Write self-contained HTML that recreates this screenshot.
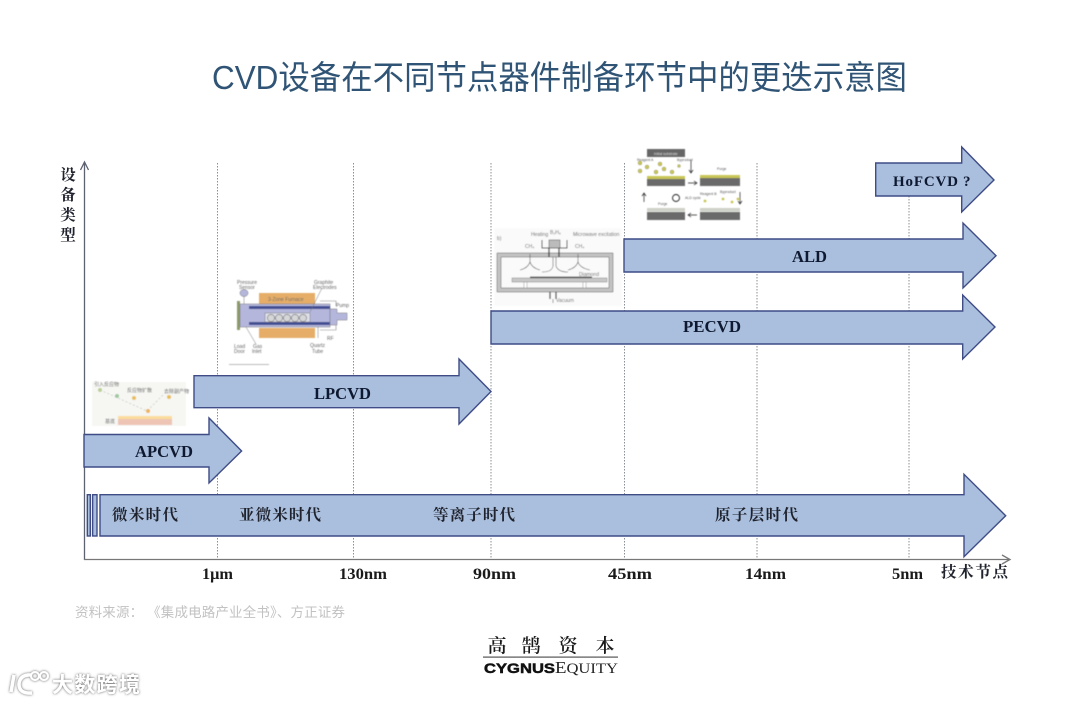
<!DOCTYPE html>
<html lang="zh-CN">
<head>
<meta charset="utf-8">
<title>CVD设备在不同节点器件制备环节中的更迭示意图</title>
<style>
html,body{margin:0;padding:0;background:#fff;width:1080px;height:703px;overflow:hidden}
svg{display:block}
.arr{fill:#a9bfdd;stroke:#3f4c86;stroke-width:1.4}
.dot{stroke:#8a8f96;stroke-width:1;stroke-dasharray:1.5 1.5;fill:none}
.lab{font-family:"Liberation Serif",serif;font-weight:bold;font-size:17px;fill:#0e1830}
.tick{font-family:"Liberation Serif",serif;font-weight:bold;font-size:16px;fill:#1a1a1a}
.cn{font-family:"Liberation Serif","Noto Serif CJK SC",serif;font-size:15.5px;fill:#20232e;font-weight:700}
.tiny{font-family:"Liberation Sans",sans-serif;font-size:5px;fill:#666}
</style>
</head>
<body>
<svg width="1080" height="703" viewBox="0 0 1080 703" xmlns="http://www.w3.org/2000/svg">
<defs>
<filter id="b" x="-5%" y="-5%" width="110%" height="110%"><feGaussianBlur stdDeviation="0.45"/></filter>
<filter id="ws" x="-10%" y="-30%" width="120%" height="160%"><feDropShadow dx="0" dy="0" stdDeviation="1.4" flood-color="#555" flood-opacity="1"/></filter>
</defs>

<text x="212" y="89" textLength="695" lengthAdjust="spacingAndGlyphs" font-family="'Liberation Sans','Noto Sans CJK SC',sans-serif" font-size="33" fill="#2f5475">CVD设备在不同节点器件制备环节中的更迭示意图</text>

<!-- dotted grid -->
<path class="dot" d="M217.5 163V559M353.5 163V559M491 163V559M624.5 163V559M757 163V559M909 163V559"/>

<!-- axes -->
<path d="M84.5 560V162M80.5 170L84.5 162L88.5 170" fill="none" stroke="#5c6270" stroke-width="1.3"/>
<path d="M84 559.5H1009M1002 555L1010 559.5L1002 564" fill="none" stroke="#777" stroke-width="1.3"/>

<!-- APCVD picture -->
<g filter="url(#b)">
<rect x="92" y="382" width="94" height="44" fill="#f6f6f3"/>
<rect x="118" y="416" width="54" height="3" fill="#fbdc9b"/>
<rect x="118" y="419" width="54" height="6" fill="#eec4b5"/>
<path d="M100 390L147 411L163 395" fill="none" stroke="#bbb" stroke-width=".6" stroke-dasharray="2 2"/>
<circle cx="100" cy="390" r="2" fill="#b9cf96"/><circle cx="117" cy="396" r="2" fill="#9fc79f"/>
<circle cx="134" cy="398" r="2" fill="#e9bd58"/><circle cx="148" cy="411" r="2" fill="#eeb25c"/><circle cx="169" cy="397" r="2" fill="#e9bd58"/>
<text class="tiny" x="94" y="386" style="font-family:'Noto Sans CJK SC',sans-serif" font-size="4">引入反应物</text>
<text class="tiny" x="127" y="392" style="font-family:'Noto Sans CJK SC',sans-serif" font-size="4">反应物扩散</text>
<text class="tiny" x="164" y="393" style="font-family:'Noto Sans CJK SC',sans-serif" font-size="4">去除副产物</text>
<text class="tiny" x="105" y="423" style="font-family:'Noto Sans CJK SC',sans-serif" font-size="4">基底</text>
</g>

<!-- LPCVD picture -->
<g filter="url(#b)">
<rect x="259" y="293" width="56" height="11" fill="#e5ad68"/>
<rect x="259" y="328" width="56" height="10" fill="#e5ad68"/>
<rect x="237" y="301" width="3" height="29" fill="#8c9a6a"/>
<rect x="240" y="304" width="90" height="23" fill="#b4b6dc" stroke="#777" stroke-width=".5"/>
<rect x="249" y="306" width="81" height="3" fill="#3f4d92"/>
<rect x="249" y="322" width="81" height="3" fill="#3f4d92"/>
<rect x="265" y="313" width="45" height="9" fill="#dfe0ea" stroke="#777" stroke-width=".5"/>
<g fill="#d5d6d8" stroke="#666" stroke-width=".6">
<circle cx="271" cy="318" r="3.6"/><circle cx="279" cy="318" r="3.6"/><circle cx="287" cy="318" r="3.6"/><circle cx="295" cy="318" r="3.6"/><circle cx="303" cy="318" r="3.6"/>
</g>
<path d="M330 309H337V313H347V320H337V325H330Z" fill="#b4b6dc" stroke="#777" stroke-width=".5"/>
<path d="M320 301H336V306M320 330H336V325" fill="none" stroke="#888" stroke-width=".6"/>
<ellipse cx="244" cy="293" rx="4" ry="3.5" fill="#b4b6dc" stroke="#666" stroke-width=".5"/>
<path d="M244 296V304M322 288L310 312M246 327L256 344M318 327V338" stroke="#777" stroke-width=".5" fill="none"/>
<text class="tiny" x="237" y="284">Pressure</text><text class="tiny" x="239" y="289">Sensor</text>
<text class="tiny" x="314" y="284">Graphite</text><text class="tiny" x="313" y="289">Electrodes</text>
<text class="tiny" x="268" y="301" fill="#654">3-Zone Furnace</text>
<text class="tiny" x="336" y="307">Pump</text><text class="tiny" x="327" y="340">RF</text>
<text class="tiny" x="234" y="348">Load</text><text class="tiny" x="234" y="353">Door</text>
<text class="tiny" x="253" y="348">Gas</text><text class="tiny" x="252" y="353">Inlet</text>
<text class="tiny" x="310" y="347">Quartz</text><text class="tiny" x="312" y="353">Tube</text>
<rect x="229" y="364" width="40" height="1" fill="#bbb"/>
</g>

<!-- PECVD picture -->
<g filter="url(#b)">
<rect x="494" y="228" width="128" height="78" fill="#fafafa"/>
<path fill-rule="evenodd" d="M497 253H613V292H497ZM501 257V288H609V257Z" fill="#c3c3c3" stroke="#555" stroke-width=".5"/>
<rect x="512" y="278" width="95" height="4" fill="#c8c8c8" stroke="#666" stroke-width=".4"/>
<rect x="530" y="276.5" width="62" height="1.6" fill="#555"/>
<path d="M524 282H527V288H524ZM583 282H586V288H583Z" fill="#fff" stroke="#777" stroke-width=".4"/>
<path d="M542 240V248H567V240" fill="none" stroke="#333" stroke-width="1"/>
<rect x="549" y="240" width="11" height="8" fill="#bbb" stroke="#444" stroke-width=".5"/>
<path d="M549 248V257M559 248V257M550 292V299M556 292V299" stroke="#222" stroke-width="1.2" fill="none"/>
<path d="M553 299V303M530 254V262Q528 268 520 270M530 262Q532 268 540 270M578 254V262Q576 268 568 270M578 262Q580 268 590 270M553 257V266Q552 272 542 272M556 257V266Q558 272 568 272" stroke="#555" stroke-width=".6" fill="none"/>
<text class="tiny" x="497" y="240" font-size="6">b)</text>
<text class="tiny" x="531" y="236" font-size="4">Heating</text><text class="tiny" x="550" y="234" font-size="4">B₂H₆</text>
<text class="tiny" x="573" y="236" font-size="4">Microwave excitation</text>
<text class="tiny" x="525" y="248" font-size="4">CH₄</text><text class="tiny" x="575" y="248" font-size="4">CH₄</text>
<text class="tiny" x="579" y="276" font-size="4">Diamond</text><text class="tiny" x="556" y="302" font-size="4">Vacuum</text>
</g>

<!-- ALD picture -->
<g filter="url(#b)">
<rect x="647" y="149" width="38" height="8" fill="#666"/>
<text x="654" y="155" font-family="'Liberation Sans',sans-serif" font-size="3.5" fill="#ddd">Initial substrate</text>
<g fill="#c9c658" stroke="#777" stroke-width=".3">
<circle cx="640" cy="163" r="2"/><circle cx="647" cy="167" r="2"/><circle cx="640" cy="171" r="2"/><circle cx="660" cy="164" r="2"/><circle cx="664" cy="169" r="2"/><circle cx="672" cy="172" r="2"/><circle cx="656" cy="172" r="2"/><circle cx="679" cy="166" r="1.5"/>
</g>
<rect x="647" y="179" width="38" height="7" fill="#6b6b6b"/><rect x="647" y="176" width="38" height="3" fill="#c9c658"/>
<rect x="700" y="178" width="40" height="8" fill="#6b6b6b"/><rect x="700" y="175" width="40" height="3" fill="#c9c658"/>
<rect x="647" y="212" width="38" height="8" fill="#6b6b6b"/><rect x="647" y="208" width="38" height="3.5" fill="#cfd2c8"/>
<rect x="700" y="212" width="40" height="8" fill="#6b6b6b"/><rect x="700" y="208" width="40" height="3.5" fill="#cfd2c8"/>
<g fill="#c9c658"><circle cx="705" cy="201" r="1.4"/><circle cx="723" cy="199" r="1.4"/><circle cx="732" cy="202" r="1.4"/><circle cx="738" cy="199" r="1.4"/></g>
<path d="M691 160V172M689 170L691 173L693 170M688 183H696M694 181L697 183L694 185M740 192V203M738 201L740 204L742 201M697 215H689M691 213L688 215L691 217M644 202V194M642 196L644 193L646 196" stroke="#222" stroke-width=".7" fill="none"/>
<circle cx="676" cy="198" r="3.5" fill="none" stroke="#222" stroke-width=".9"/>
<text x="637" y="161" font-family="'Liberation Sans',sans-serif" font-size="3.5" fill="#555">Reagent A</text><text x="677" y="161" font-family="'Liberation Sans',sans-serif" font-size="3.5" fill="#555">Byproduct</text>
<text x="717" y="170" font-family="'Liberation Sans',sans-serif" font-size="3.5" fill="#555">Purge</text><text x="658" y="205" font-family="'Liberation Sans',sans-serif" font-size="3.5" fill="#555">Purge</text>
<text x="685" y="199" font-family="'Liberation Sans',sans-serif" font-size="3.5" fill="#555">ALD cycle</text>
<text x="700" y="195" font-family="'Liberation Sans',sans-serif" font-size="3.5" fill="#555">Reagent B</text><text x="720" y="193" font-family="'Liberation Sans',sans-serif" font-size="3.5" fill="#555">Byproduct</text>
</g>

<!-- arrows -->
<polygon class="arr" points="84,434.5 209,434.5 209,418 241.6,451 209,483 209,467 84,467"/>
<polygon class="arr" points="194,375.7 459,375.7 459,359 491,391.5 459,424 459,407.7 194,407.7"/>
<polygon class="arr" points="491,311 962.7,311 962.7,295 995,327 962.7,359 962.7,344 491,344"/>
<polygon class="arr" points="624,239 963,239 963,223 996,255.7 963,288 963,272 624,272"/>
<polygon class="arr" points="875.7,163 961.7,163 961.7,147 994,180 961.7,212 961.7,196 875.7,196"/>

<!-- era arrow -->
<rect class="arr" x="87.3" y="494.7" width="3" height="41.3"/>
<rect class="arr" x="92.6" y="494.7" width="4.4" height="41.3"/>
<polygon class="arr" points="100,494.7 964,494.7 964,474.3 1005.7,515.7 964,556.7 964,536 100,536"/>

<!-- arrow labels -->
<text class="lab" x="135" y="457" textLength="58" lengthAdjust="spacingAndGlyphs">APCVD</text>
<text class="lab" x="314" y="399" textLength="57" lengthAdjust="spacingAndGlyphs">LPCVD</text>
<text class="lab" x="683" y="332" textLength="58" lengthAdjust="spacingAndGlyphs">PECVD</text>
<text class="lab" x="792" y="262" textLength="35" lengthAdjust="spacingAndGlyphs">ALD</text>
<text class="lab" x="893" y="186" font-size="15" style="font-size:15px" textLength="65" lengthAdjust="spacing">HoFCVD</text>
<text class="lab" x="963" y="186" style="font-size:15px">?</text>

<!-- era labels -->
<text class="cn" x="112" y="520" textLength="66" lengthAdjust="spacing">微米时代</text>
<text class="cn" x="239" y="520" textLength="82" lengthAdjust="spacing">亚微米时代</text>
<text class="cn" x="433" y="520" textLength="82" lengthAdjust="spacing">等离子时代</text>
<text class="cn" x="715" y="520" textLength="83" lengthAdjust="spacing">原子层时代</text>

<!-- y axis label -->
<text class="cn" x="68" y="180" text-anchor="middle">设</text>
<text class="cn" x="68" y="200" text-anchor="middle">备</text>
<text class="cn" x="68" y="220" text-anchor="middle">类</text>
<text class="cn" x="68" y="240" text-anchor="middle">型</text>

<!-- tick labels -->
<text class="tick" x="202" y="579" textLength="31" lengthAdjust="spacingAndGlyphs">1μm</text>
<text class="tick" x="339" y="579" textLength="48" lengthAdjust="spacingAndGlyphs">130nm</text>
<text class="tick" x="473" y="579" textLength="43" lengthAdjust="spacingAndGlyphs">90nm</text>
<text class="tick" x="608" y="579" textLength="44" lengthAdjust="spacingAndGlyphs">45nm</text>
<text class="tick" x="745" y="579" textLength="41" lengthAdjust="spacingAndGlyphs">14nm</text>
<text class="tick" x="892" y="579" textLength="31" lengthAdjust="spacingAndGlyphs">5nm</text>
<text class="cn" x="941" y="577" textLength="67" lengthAdjust="spacing">技术节点</text>

<!-- source -->
<text x="75" y="617" textLength="270" lengthAdjust="spacing" font-family="'Liberation Sans','Noto Sans CJK SC',sans-serif" font-size="13.5" fill="#c2c2c2">资料来源： 《集成电路产业全书》、方正证券</text>

<!-- logo -->
<g font-family="'Liberation Serif','Noto Serif CJK SC',serif" font-size="19" font-weight="600" fill="#1a1a1a" text-anchor="middle">
<text x="497" y="652">高</text><text x="531" y="652">鹄</text><text x="568" y="652">资</text><text x="605" y="652">本</text>
</g>
<rect x="483" y="656.5" width="135" height="1.2" fill="#555"/>
<text x="484" y="673" textLength="71" lengthAdjust="spacingAndGlyphs" font-family="'Liberation Sans',sans-serif" font-weight="bold" font-size="14" fill="#111" stroke="#111" stroke-width=".5">CYGNUS</text>
<text x="555" y="673" textLength="63" lengthAdjust="spacingAndGlyphs" font-family="'Liberation Serif',serif" font-size="17" fill="#222">E<tspan font-size="15">QUITY</tspan></text>

<!-- watermark -->
<g filter="url(#ws)">
<path d="M14 675L11 692M32 675Q20 674 19 684Q19 694 32 693" fill="none" stroke="#fff" stroke-width="3.4"/>
<circle cx="35" cy="676" r="4" fill="none" stroke="#fff" stroke-width="2"/>
<circle cx="44" cy="676" r="4" fill="none" stroke="#fff" stroke-width="2"/>
<text x="52" y="692" textLength="88" lengthAdjust="spacing" font-family="'Noto Sans CJK SC',sans-serif" font-size="21" font-weight="bold" fill="#fff">大数跨境</text>
</g>
</svg>
</body>
</html>
